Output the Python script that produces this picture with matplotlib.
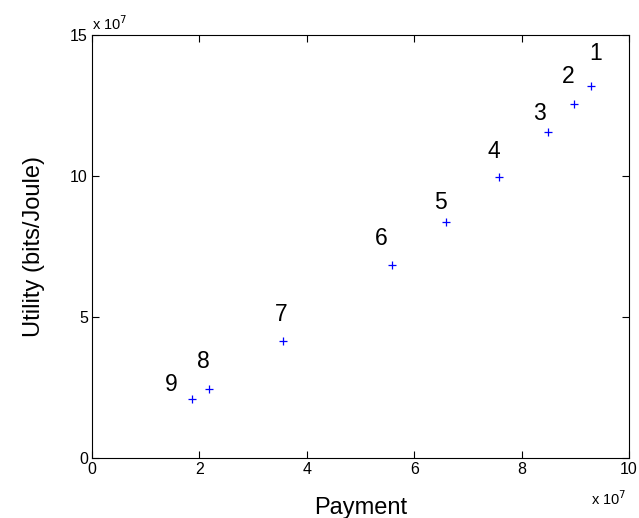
import matplotlib
matplotlib.use("Agg")
import matplotlib.pyplot as plt
from matplotlib.ticker import FuncFormatter

plt.rcParams["font.family"] = ["Liberation Sans", "DejaVu Sans"]

# payment vs utility for each user
labels = ["1", "2", "3", "4", "5", "6", "7", "8", "9"]
payment = [9.29e7, 8.98e7, 8.49e7, 7.57e7, 6.60e7, 5.58e7, 3.56e7, 2.17e7, 1.87e7]
utility = [13.20e7, 12.54e7, 11.55e7, 9.95e7, 8.38e7, 6.85e7, 4.15e7, 2.44e7, 2.08e7]

# label placement relative to the marker, in pixels (dx, dy up)
offsets = [(5, 32), (-6, 28), (-8, 19), (-5, 26), (-6, 19), (-10, 26), (-2, 26), (-5, 28), (-21, 15)]

fig = plt.figure(figsize=(6.39, 5.18), dpi=100)
ax = fig.add_axes([0.144, 0.1158, 0.8404, 0.8166])

ax.plot(payment, utility, linestyle="none", marker="+", color="blue",
        markersize=6, markeredgewidth=0.9)

for lab, x, y, (dx, dy) in zip(labels, payment, utility, offsets):
    ax.annotate(lab, (x, y), xytext=(dx, dy), textcoords="offset pixels",
                ha="center", va="center", fontsize=16.5)

ax.set_xlim(0, 10e7)
ax.set_ylim(0, 15e7)
ax.set_xticks([0, 2e7, 4e7, 6e7, 8e7, 10e7])
ax.set_yticks([0, 5e7, 10e7, 15e7])
fmt = FuncFormatter(lambda v, _: f"{v / 1e7:g}")
ax.xaxis.set_major_formatter(fmt)
ax.yaxis.set_major_formatter(fmt)
ax.tick_params(direction="in", length=5, width=0.8, labelsize=11.5,
               top=True, right=True, pad=3)
for s in ax.spines.values():
    s.set_linewidth(0.8)

ax.text(0.0, 1.005, "x 10$^7$", transform=ax.transAxes, ha="left", va="bottom", fontsize=10.5)
ax.text(0.995, -0.075, "x 10$^7$", transform=ax.transAxes, ha="right", va="top", fontsize=10.5)

ax.set_xlabel("Payment", fontsize=17, labelpad=14)
ax.set_ylabel("Utility (bits/Joule)", fontsize=17, labelpad=18)

fig.savefig("out.png", dpi=100)
